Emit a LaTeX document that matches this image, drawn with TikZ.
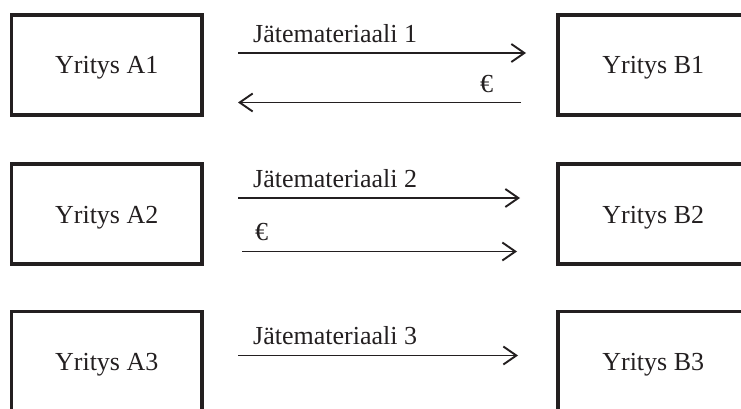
\documentclass[tikz,border=0pt]{standalone}
\usepackage{fontspec}
\setmainfont{Liberation Serif}
\usetikzlibrary{arrows.meta}
\definecolor{ink}{RGB}{35,31,32}
\begin{document}
\begin{tikzpicture}[x=1pt,y=-1pt,
  firm/.style={draw=ink, line width=3.2pt, minimum width=190.5pt, minimum height=100pt,
    inner sep=0pt, text=ink, text height=18pt, text depth=-2pt,
    font=\fontsize{26}{30}\selectfont},
  flow/.style={draw=ink, line width=1.9pt,
    -{Straight Barb[length=13pt,width=18pt,line width=1.9pt]}},
  lbl/.style={text=ink, font=\fontsize{26}{30}\selectfont, inner sep=0pt, anchor=base west}]
\useasboundingbox (0,0) rectangle (741,409);
\clip (0,0) rectangle (741,409);

% companies
\node[firm] (A1) at (106.75,65)  {Yritys A1};
\node[firm] (B1) at (653.25,65)  {Yritys B1};
\node[firm] (A2) at (106.75,214) {Yritys A2};
\node[firm] (B2) at (653.25,214) {Yritys B2};
\node[firm] (A3) at (106.75,361.5) {Yritys A3};
\node[firm] (B3) at (653.25,361.5) {Yritys B3};

% arrow end points
\coordinate (m1s) at (238,53);    \coordinate (m1e) at (526,53);
\coordinate (p1s) at (521,102.5); \coordinate (p1e) at (238,102.5);
\coordinate (m2s) at (238,198);   \coordinate (m2e) at (520,198);
\coordinate (p2s) at (242,251.5); \coordinate (p2e) at (517,251.5);
\coordinate (m3s) at (238,355.5); \coordinate (m3e) at (518,355.5);

% material and payment flows
\draw[flow] (m1s) -- (m1e);
\draw[flow] (p1s) -- (p1e);
\draw[flow] (m2s) -- (m2e);
\draw[flow] (p2s) -- (p2e);
\draw[flow] (m3s) -- (m3e);

% flow labels
\node[lbl] (t1) at (253,43)  {Jätemateriaali 1};
\node[lbl] (e1) at (480,93)  {€};
\node[lbl] (t2) at (253,187) {Jätemateriaali 2};
\node[lbl] (e2) at (255,240) {€};
\node[lbl] (t3) at (253,344) {Jätemateriaali 3};
\end{tikzpicture}
\end{document}
